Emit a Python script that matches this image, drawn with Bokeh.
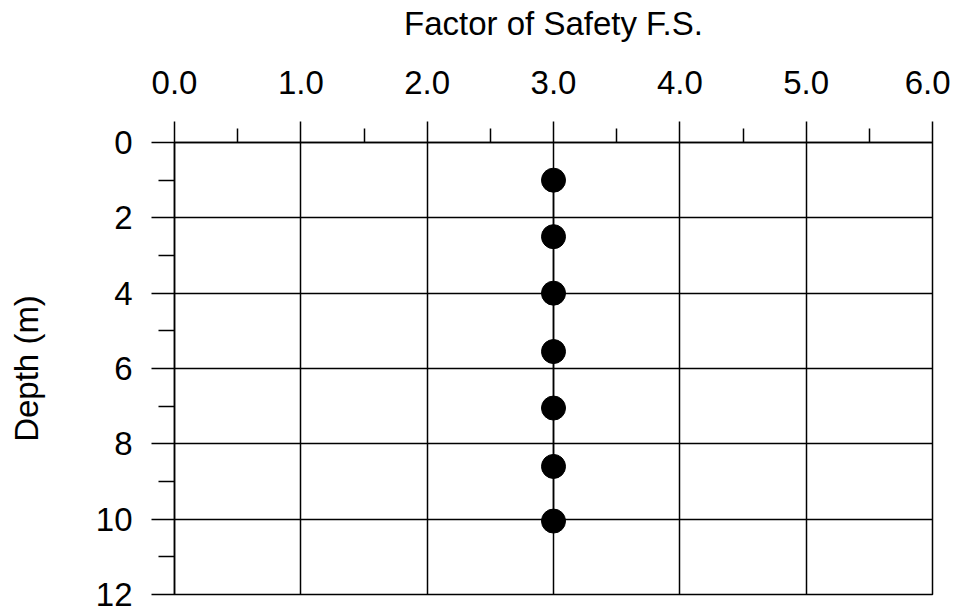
from bokeh.plotting import figure
from bokeh.models import Range1d, FixedTicker, NumeralTickFormatter
from bokeh.embed import file_html
from bokeh.resources import INLINE

# Data
factor_of_safety = [3.0, 3.0, 3.0, 3.0, 3.0, 3.0, 3.0]
depth_m = [1.0, 2.5, 4.0, 5.55, 7.05, 8.6, 10.05]

x_major = [0, 1, 2, 3, 4, 5, 6]
x_minor = [0.5, 1.5, 2.5, 3.5, 4.5, 5.5]
y_major = [0, 2, 4, 6, 8, 10, 12]
y_minor = [1, 3, 5, 7, 9, 11]

FONT = "Liberation Sans"

p = figure(
    output_backend="svg", toolbar_location=None,
    x_axis_location="above",
    x_range=Range1d(0, 6), y_range=Range1d(12, 0),
    frame_width=758, frame_height=452,
    min_border_left=174, min_border_top=142,
    min_border_right=18, min_border_bottom=20,
)
p.background_fill_color = "white"
p.border_fill_color = "white"
p.outline_line_color = "black"
p.outline_line_width = 1.5
p.outline_line_alpha = 1.0

# grid
p.xgrid.ticker = FixedTicker(ticks=x_major)
p.ygrid.ticker = FixedTicker(ticks=y_major)
for g in (p.xgrid, p.ygrid):
    g.grid_line_color = "black"
    g.grid_line_width = 1.5
    g.grid_line_alpha = 1.0

# x axis (top)
xa = p.xaxis[0]
xa.ticker = FixedTicker(ticks=x_major, minor_ticks=x_minor)
xa.formatter = NumeralTickFormatter(format="0.0")
xa.axis_label = "Factor of Safety F.S."
# y axis
ya = p.yaxis[0]
ya.ticker = FixedTicker(ticks=y_major, minor_ticks=y_minor)
ya.axis_label = "Depth (m)"

for ax in (xa, ya):
    ax.axis_line_color = "black"
    ax.axis_line_width = 1.5
    ax.major_tick_line_color = "black"
    ax.major_tick_line_width = 1.5
    ax.minor_tick_line_color = "black"
    ax.minor_tick_line_width = 1.5
    ax.major_tick_in = 0
    ax.minor_tick_in = 0
    ax.major_label_text_font = FONT
    ax.major_label_text_font_size = "33px"
    ax.major_label_text_color = "black"
    ax.axis_label_text_font = FONT
    ax.axis_label_text_font_size = "33px"
    ax.axis_label_text_font_style = "normal"
    ax.axis_label_text_color = "black"

xa.major_tick_out = 21
xa.minor_tick_out = 14
xa.major_label_standoff = 28
xa.axis_label_standoff = 26

ya.major_tick_out = 23
ya.minor_tick_out = 16
ya.major_label_standoff = 19
ya.axis_label_standoff = 48

p.line(factor_of_safety, depth_m, line_color="black", line_width=1.5)
p.scatter(factor_of_safety, depth_m, size=24, fill_color="black", line_color="black")

open("out.html", "w").write(file_html(p, INLINE))
